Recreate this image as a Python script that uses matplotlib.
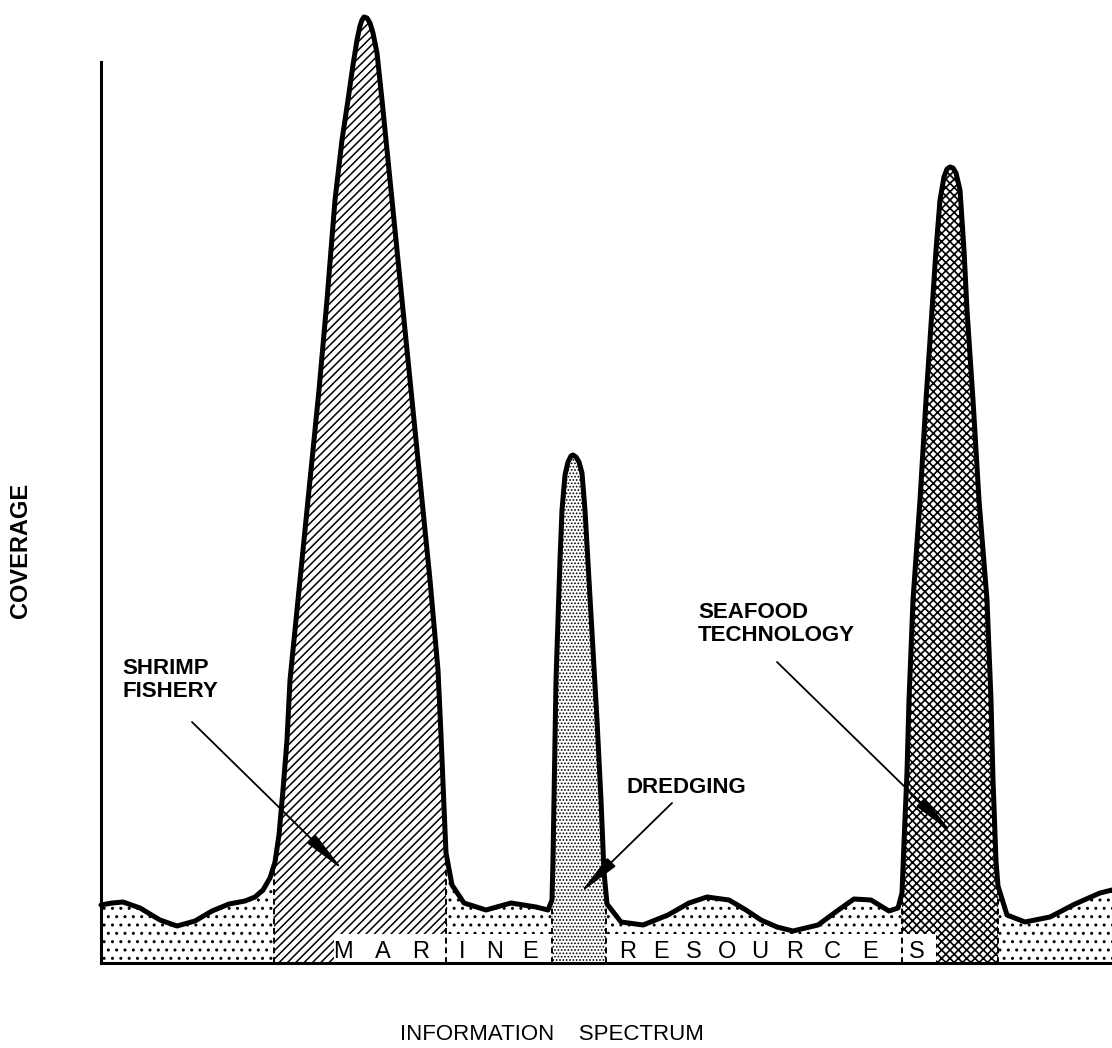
import numpy as np
import matplotlib
matplotlib.use("Agg")
import matplotlib.pyplot as plt
from matplotlib.patches import Polygon, Rectangle

# outline of the coverage curve (spectrum position, coverage)
spec_x = [0, 11, 22, 39, 59, 76, 94, 111, 128, 144, 154, 162, 169, 174, 178, 182,
          186, 189, 199, 209, 218, 226, 234, 241, 247, 252, 256, 259, 261, 263,
          266, 269, 272, 276, 281, 286, 291, 301, 311, 321, 329, 337, 340, 343,
          345, 351, 363, 385, 410, 435, 447, 451, 452, 453, 454, 455, 457, 459,
          461, 464, 467, 470, 472, 475, 478, 481, 484, 488, 492, 496, 500, 503,
          506, 520, 542, 567, 588, 606, 628, 645, 660, 676, 692, 717, 736, 753,
          770, 788, 797, 801, 803, 806, 808, 812, 819, 825, 831, 835, 839, 843,
          846, 849, 852, 855, 859, 863, 866, 872, 878, 886, 890, 892, 895, 897,
          906, 924, 949, 974, 999, 1011]
coverage = [58, 60, 61, 55, 43, 37, 42, 52, 59, 62, 66, 73, 85, 101, 128, 173,
            223, 283, 383, 483, 573, 663, 763, 823, 863, 898, 923, 937, 943, 946,
            945, 940, 930, 910, 863, 813, 763, 663, 563, 463, 383, 293, 228, 156,
            110, 78, 60, 53, 60, 56, 53, 63, 103, 163, 223, 283, 343, 403,
            453, 488, 501, 507, 508, 506, 501, 490, 453, 383, 313, 243, 163, 91,
            59, 41, 38, 48, 60, 66, 63, 53, 43, 36, 32, 38, 52, 64,
            63, 52, 55, 70, 120, 191, 263, 363, 463, 563, 653, 713, 763, 786,
            794, 796, 795, 790, 773, 713, 653, 563, 463, 363, 263, 183, 102, 77,
            48, 41, 46, 59, 70, 73]

# topic bands along the spectrum
band_edges = [0, 173, 345, 451, 505, 801, 897, 1011]
band_hatch = ["..", "////", "..", ".....", "..", "xxxx", ".."]

# "MARINE RESOURCES" lettering along the base
letters = ["M", "A", "R", "I", "N", "E", "R", "E", "S", "O", "U", "R", "C", "E", "S"]
letter_x = [242, 282, 320, 361, 394, 429, 527, 560, 593, 626, 659, 694, 731, 769, 816]
white_boxes = [(233, 345), (345, 451), (505, 801), (801, 835)]

# callouts: text, text position (left, top), arrow start, arrow tip
labels = ["SHRIMP\nFISHERY", "DREDGING", "SEAFOOD\nTECHNOLOGY"]
label_pos = [(21, 305), (526, 186), (597, 361)]
arrow_from = [(91, 241), (571, 160), (676, 301)]
arrow_to = [(242, 93), (479, 70), (851, 130)]

FONT = ["Liberation Sans", "DejaVu Sans"]

fig = plt.figure(figsize=(11.12, 10.48), dpi=100)
ax = fig.add_axes([101 / 1112, 85 / 1048, 1011 / 1112, 946 / 1048])
ax.set_xlim(0, 1011)
ax.set_ylim(0, 946)

# area under the curve, used to clip the band fills
outline = np.column_stack([spec_x, coverage])
area = np.vstack([outline, [[1011, 0], [0, 0]]])
clip = Polygon(area, closed=True, transform=ax.transData)

hatch_lw = {"..": 1.0, "////": 1.1, ".....": 0.8, "xxxx": 1.2}
for i, h in enumerate(band_hatch):
    plt.rcParams["hatch.linewidth"] = hatch_lw[h]
    r = Rectangle((band_edges[i], 0), band_edges[i + 1] - band_edges[i], 960,
                  facecolor="white", edgecolor="black", hatch=h, linewidth=0,
                  zorder=1)
    ax.add_patch(r)
    r.set_clip_path(clip)

for x0, x1 in white_boxes:
    ax.add_patch(Rectangle((x0, 0), x1 - x0, 29, facecolor="white",
                           edgecolor="none", zorder=2))

# dashed separators between the bands
for e in band_edges[1:-1]:
    top = np.interp(e, spec_x, coverage)
    ax.plot([e, e], [0, top], color="black", lw=1.4, ls=(0, (3, 2)), zorder=3)

ax.plot(spec_x, coverage, color="black", lw=3.6, solid_joinstyle="round",
        solid_capstyle="round", clip_on=False, zorder=4)

for ch, x in zip(letters, letter_x):
    ax.text(x, 5, ch, ha="center", va="baseline", fontsize=17,
            family=FONT, zorder=5)

for txt, (tx, ty), a, b in zip(labels, label_pos, arrow_from, arrow_to):
    ax.text(tx, ty, txt, ha="left", va="top", fontsize=16, fontweight="bold",
            family=FONT, linespacing=1.15, zorder=6)
    ax.annotate("", xy=b, xytext=a, zorder=6,
                arrowprops=dict(arrowstyle="-|>,head_length=2.2,head_width=0.3",
                                color="black", lw=1.3, mutation_scale=12,
                                shrinkA=0, shrinkB=0))

for s in ["top", "right"]:
    ax.spines[s].set_visible(False)
ax.spines["left"].set_bounds(0, 901)
ax.spines["left"].set_linewidth(2.2)
ax.spines["bottom"].set_linewidth(2.2)
ax.set_xticks([])
ax.set_yticks([])

ax.set_ylabel("COVERAGE", fontsize=17, fontweight="bold", family=FONT)
ax.yaxis.set_label_coords(-69 / 1011, 413 / 946)
ax.set_xlabel("INFORMATION    SPECTRUM", fontsize=16, family=FONT)
ax.xaxis.set_label_coords(451 / 1011, -72 / 946)
ax.xaxis.label.set_va("center")

fig.savefig("out.png", dpi=100, facecolor="white")
